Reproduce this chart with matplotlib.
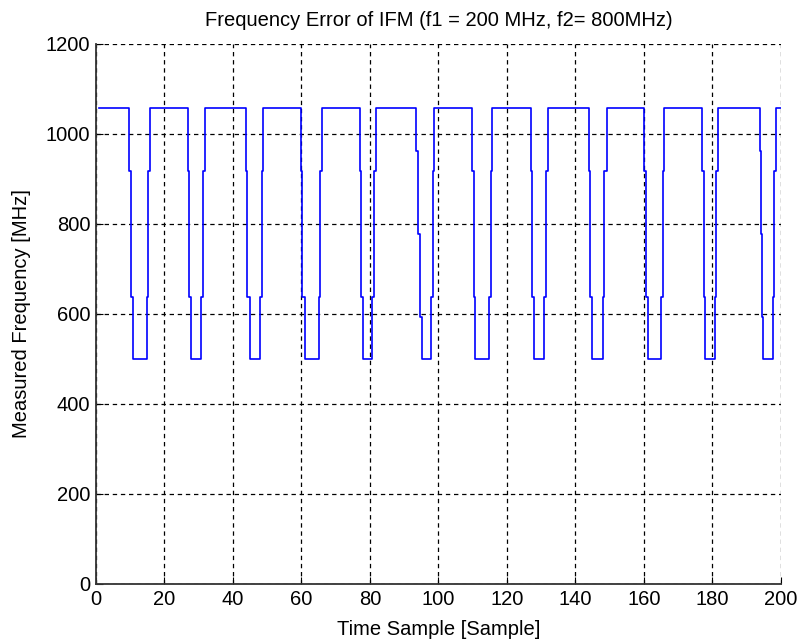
import numpy as np
import matplotlib
matplotlib.use("Agg")
import matplotlib.pyplot as plt

# Frequency error of IFM, step trace.
# Each entry: time sample where the measured value switches, and the new value.
switch_t = [1.0,
            9.7, 10.1, 10.7, 14.8, 15.2, 15.7,
            26.8, 27.3, 27.7, 30.8, 31.3, 31.8,
            43.8, 44.2, 44.9, 48.0, 48.5, 48.9,
            59.9, 60.3, 61.0, 65.2, 65.5, 65.9,
            77.0, 77.5, 78.0, 80.7, 81.2, 81.7,
            93.5, 94.0, 94.5, 95.1, 97.9, 98.4, 98.8,
            109.8, 110.3, 110.7, 114.8, 115.3, 115.8,
            126.9, 127.3, 127.8, 130.9, 131.4, 131.9,
            143.9, 144.3, 144.8, 148.0, 148.5, 149.1,
            160.1, 160.5, 161.1, 165.1, 165.5, 166.0,
            177.0, 177.5, 178.0, 180.7, 181.2, 181.7,
            193.8, 194.2, 194.5, 194.9, 197.8, 198.1, 198.6,
            200.0]
freq_mhz = [1057,
            918, 637, 500, 637, 918, 1057,
            918, 637, 500, 637, 918, 1057,
            918, 637, 500, 637, 918, 1057,
            918, 637, 500, 637, 918, 1057,
            918, 637, 500, 637, 918, 1057,
            962, 778, 594, 500, 637, 918, 1057,
            918, 637, 500, 637, 918, 1057,
            918, 637, 500, 637, 918, 1057,
            918, 637, 500, 637, 918, 1057,
            918, 637, 500, 637, 918, 1057,
            918, 637, 500, 637, 918, 1057,
            962, 778, 594, 500, 637, 918, 1057,
            1057]

x_ticks = [0, 20, 40, 60, 80, 100, 120, 140, 160, 180, 200]
y_ticks = [0, 200, 400, 600, 800, 1000, 1200]

plt.rcParams['font.family'] = ['Liberation Sans', 'DejaVu Sans']
fs = 14.5

fig = plt.figure(figsize=(8.0, 6.43), dpi=100)
ax = fig.add_axes([0.12, 0.0918, 0.856, 0.8398])

ax.step(switch_t, freq_mhz, where='post', color='#0000ff', linewidth=1.2)

ax.set_xlim(0, 200)
ax.set_ylim(0, 1200)
ax.set_xticks(x_ticks)
ax.set_yticks(y_ticks)
ax.tick_params(direction='in', length=5, width=0.8, labelsize=fs, pad=4)

# matlab style: box off, dotted black grid
ax.spines['top'].set_visible(False)
ax.spines['right'].set_visible(False)
ax.spines['left'].set_linewidth(1.3)
ax.spines['bottom'].set_linewidth(1.3)
ax.spines['left'].set_color('#333333')
ax.spines['bottom'].set_color('#333333')
ax.grid(True, color='black', linestyle=(0, (3.5, 3)), linewidth=0.9)
ax.set_axisbelow(True)

ax.set_title("Frequency Error of IFM (f1 = 200 MHz, f2= 800MHz)", fontsize=fs, pad=13)
ax.set_xlabel("Time Sample [Sample]", fontsize=fs, labelpad=8)
ax.set_ylabel("Measured Frequency [MHz]", fontsize=fs, labelpad=11)

fig.savefig("out.png", dpi=100)
